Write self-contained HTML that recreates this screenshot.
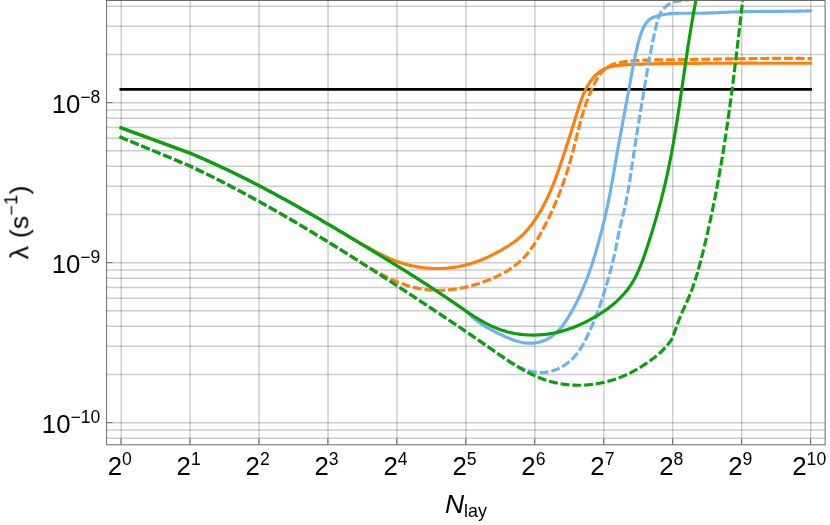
<!DOCTYPE html>
<html><head><meta charset="utf-8"><title>plot</title>
<style>
html,body{margin:0;padding:0;background:#fff;}
svg{display:block;}
text{font-family:"Liberation Sans",sans-serif;fill:#000;}
</style></head><body>
<svg width="830" height="525" viewBox="0 0 830 525">
<rect width="830" height="525" fill="#fff"/>
<defs><clipPath id="c"><rect x="106.60" y="0.50" width="718.50" height="444.30"/></clipPath></defs>
<g stroke="#000" stroke-opacity="0.195" stroke-width="1.5" fill="none">
<line x1="121.20" y1="0.50" x2="121.20" y2="444.80"/>
<line x1="190.15" y1="0.50" x2="190.15" y2="444.80"/>
<line x1="259.10" y1="0.50" x2="259.10" y2="444.80"/>
<line x1="328.05" y1="0.50" x2="328.05" y2="444.80"/>
<line x1="397.00" y1="0.50" x2="397.00" y2="444.80"/>
<line x1="465.95" y1="0.50" x2="465.95" y2="444.80"/>
<line x1="534.90" y1="0.50" x2="534.90" y2="444.80"/>
<line x1="603.85" y1="0.50" x2="603.85" y2="444.80"/>
<line x1="672.80" y1="0.50" x2="672.80" y2="444.80"/>
<line x1="741.75" y1="0.50" x2="741.75" y2="444.80"/>
<line x1="810.70" y1="0.50" x2="810.70" y2="444.80"/>
<line x1="106.60" y1="438.21" x2="825.10" y2="438.21"/>
<line x1="106.60" y1="430.02" x2="825.10" y2="430.02"/>
<line x1="106.60" y1="422.70" x2="825.10" y2="422.70"/>
<line x1="106.60" y1="374.54" x2="825.10" y2="374.54"/>
<line x1="106.60" y1="346.36" x2="825.10" y2="346.36"/>
<line x1="106.60" y1="326.37" x2="825.10" y2="326.37"/>
<line x1="106.60" y1="310.86" x2="825.10" y2="310.86"/>
<line x1="106.60" y1="298.20" x2="825.10" y2="298.20"/>
<line x1="106.60" y1="287.48" x2="825.10" y2="287.48"/>
<line x1="106.60" y1="278.21" x2="825.10" y2="278.21"/>
<line x1="106.60" y1="270.02" x2="825.10" y2="270.02"/>
<line x1="106.60" y1="262.70" x2="825.10" y2="262.70"/>
<line x1="106.60" y1="214.54" x2="825.10" y2="214.54"/>
<line x1="106.60" y1="186.36" x2="825.10" y2="186.36"/>
<line x1="106.60" y1="166.37" x2="825.10" y2="166.37"/>
<line x1="106.60" y1="150.86" x2="825.10" y2="150.86"/>
<line x1="106.60" y1="138.20" x2="825.10" y2="138.20"/>
<line x1="106.60" y1="127.48" x2="825.10" y2="127.48"/>
<line x1="106.60" y1="118.21" x2="825.10" y2="118.21"/>
<line x1="106.60" y1="110.02" x2="825.10" y2="110.02"/>
<line x1="106.60" y1="102.70" x2="825.10" y2="102.70"/>
<line x1="106.60" y1="54.54" x2="825.10" y2="54.54"/>
<line x1="106.60" y1="26.36" x2="825.10" y2="26.36"/>
<line x1="106.60" y1="6.37" x2="825.10" y2="6.37"/>
</g>
<g clip-path="url(#c)" fill="none" stroke-width="3.15" stroke-linejoin="round" stroke-linecap="square">
<path d="M121 89.38H810.5" stroke="#000" stroke-width="2.95"/>
<path d="M121.00 127.80 L189.66 153.02 L191.53 153.80 L193.40 154.59 L195.27 155.38 L197.13 156.18 L199.00 156.98 L200.86 157.79 L202.72 158.60 L204.57 159.41 L206.43 160.23 L208.28 161.06 L210.13 161.89 L211.98 162.72 L213.83 163.56 L215.67 164.40 L217.51 165.25 L219.35 166.10 L221.19 166.96 L223.03 167.82 L224.86 168.68 L226.69 169.55 L228.52 170.42 L230.35 171.30 L232.18 172.18 L234.00 173.06 L235.82 173.95 L237.64 174.84 L239.46 175.74 L241.28 176.64 L243.09 177.54 L244.90 178.45 L246.71 179.36 L248.52 180.27 L250.33 181.19 L252.14 182.11 L253.94 183.03 L255.74 183.96 L257.54 184.89 L259.34 185.83 L261.14 186.77 L262.94 187.71 L264.73 188.65 L266.52 189.60 L268.31 190.55 L270.10 191.50 L271.89 192.46 L273.68 193.42 L275.46 194.38 L277.25 195.34 L279.03 196.31 L280.81 197.28 L282.59 198.26 L284.36 199.23 L286.14 200.21 L287.92 201.19 L289.69 202.17 L291.46 203.16 L293.23 204.15 L295.00 205.14 L296.77 206.13 L298.54 207.13 L300.30 208.13 L302.07 209.13 L303.83 210.13 L305.59 211.13 L307.36 212.14 L309.12 213.15 L310.87 214.16 L312.63 215.17 L314.39 216.18 L316.14 217.20 L317.90 218.21 L319.65 219.23 L321.41 220.25 L323.16 221.28 L324.91 222.30 L326.66 223.33 L328.41 224.35 L330.15 225.38 L331.90 226.41 L333.65 227.45 L335.39 228.48 L337.14 229.51 L338.88 230.55 L340.62 231.58 L342.36 232.62 L344.11 233.66 L345.85 234.70 L347.59 235.74 L349.32 236.78 L351.06 237.83 L352.30 238.61 L353.61 239.35 L354.91 240.10 L356.22 240.83 L357.54 241.57 L358.85 242.31 L360.17 243.05 L361.49 243.78 L362.81 244.52 L364.13 245.26 L365.45 246.00 L366.78 246.74 L368.11 247.48 L369.45 248.22 L370.79 248.96 L372.13 249.69 L373.47 250.42 L374.82 251.15 L376.17 251.87 L377.53 252.58 L378.89 253.29 L380.25 253.99 L381.62 254.68 L382.99 255.36 L384.37 256.03 L385.75 256.68 L387.14 257.33 L388.53 257.96 L389.93 258.58 L391.33 259.18 L392.74 259.77 L394.15 260.34 L395.57 260.89 L396.99 261.42 L398.42 261.94 L399.86 262.44 L401.30 262.91 L402.75 263.37 L404.20 263.81 L405.66 264.22 L407.12 264.62 L408.58 265.00 L410.06 265.36 L411.53 265.70 L413.01 266.03 L414.49 266.33 L415.97 266.61 L417.46 266.88 L418.95 267.12 L420.45 267.35 L421.94 267.55 L423.44 267.74 L424.94 267.91 L426.45 268.05 L427.95 268.18 L429.46 268.29 L430.96 268.38 L432.47 268.45 L433.98 268.50 L435.49 268.53 L437.00 268.55 L438.51 268.54 L440.02 268.51 L441.53 268.47 L443.04 268.40 L444.54 268.32 L446.05 268.21 L447.56 268.09 L449.06 267.94 L450.56 267.78 L452.07 267.60 L453.56 267.40 L455.06 267.18 L456.56 266.94 L458.05 266.68 L459.54 266.40 L461.02 266.10 L462.51 265.78 L463.98 265.44 L465.46 265.09 L466.93 264.71 L468.40 264.32 L469.86 263.90 L471.32 263.46 L472.77 263.01 L474.22 262.54 L475.67 262.04 L477.10 261.53 L478.54 261.01 L479.96 260.46 L481.39 259.90 L482.80 259.32 L484.21 258.73 L485.62 258.12 L487.01 257.49 L488.41 256.85 L489.79 256.20 L491.17 255.53 L492.54 254.85 L493.90 254.16 L495.26 253.45 L496.61 252.73 L497.95 252.00 L499.29 251.26 L500.62 250.51 L501.94 249.74 L503.25 248.97 L504.55 248.19 L505.85 247.39 L507.13 246.59 L508.41 245.78 L509.68 244.96 L510.94 244.13 L512.18 243.29 L513.41 242.43 L514.63 241.55 L515.84 240.65 L517.02 239.73 L518.19 238.80 L519.35 237.83 L520.48 236.85 L521.59 235.83 L522.68 234.79 L523.76 233.73 L524.81 232.64 L525.84 231.53 L526.86 230.39 L527.85 229.24 L528.83 228.07 L529.79 226.88 L530.73 225.68 L531.66 224.47 L532.56 223.24 L533.46 222.01 L534.34 220.76 L535.20 219.51 L536.05 218.24 L536.88 216.97 L537.70 215.69 L538.50 214.41 L539.29 213.11 L540.07 211.81 L540.83 210.50 L541.59 209.18 L542.32 207.86 L543.05 206.52 L543.76 205.19 L544.47 203.84 L545.16 202.49 L545.84 201.14 L546.51 199.77 L547.16 198.41 L547.81 197.03 L548.45 195.66 L549.08 194.27 L549.70 192.89 L550.30 191.49 L550.91 190.10 L551.50 188.70 L552.08 187.29 L552.66 185.88 L553.22 184.47 L553.78 183.06 L554.34 181.64 L554.88 180.22 L555.42 178.79 L555.96 177.37 L556.49 175.94 L557.01 174.51 L557.52 173.08 L558.04 171.64 L558.54 170.21 L559.05 168.77 L559.54 167.33 L560.04 165.89 L560.53 164.45 L561.01 163.01 L561.50 161.57 L561.98 160.13 L562.46 158.69 L562.94 157.25 L563.41 155.82 L563.88 154.38 L564.35 152.94 L564.82 151.50 L565.29 150.07 L565.76 148.63 L566.23 147.20 L566.69 145.77 L567.16 144.33 L567.62 142.90 L568.09 141.46 L568.55 140.03 L569.01 138.60 L569.47 137.16 L569.93 135.72 L570.38 134.29 L570.84 132.85 L571.30 131.41 L571.75 129.96 L572.20 128.52 L572.66 127.07 L573.11 125.63 L573.56 124.18 L574.01 122.72 L574.46 121.27 L574.91 119.81 L575.36 118.35 L575.80 116.88 L576.25 115.42 L576.70 113.95 L577.15 112.47 L577.60 111.00 L578.05 109.53 L578.51 108.06 L578.98 106.59 L579.46 105.12 L579.95 103.66 L580.44 102.20 L580.96 100.75 L581.48 99.31 L582.02 97.88 L582.58 96.45 L583.16 95.04 L583.76 93.64 L584.37 92.25 L585.02 90.87 L585.68 89.51 L586.37 88.17 L587.09 86.84 L587.84 85.53 L588.62 84.24 L589.43 82.97 L590.27 81.72 L591.14 80.49 L592.05 79.29 L593.00 78.12 L593.98 76.99 L594.99 75.89 L596.04 74.84 L597.12 73.83 L598.24 72.87 L599.40 71.96 L600.59 71.11 L601.82 70.32 L603.09 69.59 L604.39 68.92 L605.74 68.33 L607.11 67.81 L608.53 67.35 L609.97 66.94 L611.43 66.59 L612.92 66.29 L614.42 66.03 L615.95 65.80 L617.48 65.61 L619.02 65.44 L620.57 65.29 L622.12 65.15 L623.66 65.03 L625.21 64.91 L626.75 64.81 L628.29 64.71 L629.82 64.61 L631.36 64.52 L632.89 64.44 L634.42 64.37 L635.94 64.30 L637.47 64.23 L638.99 64.17 L640.51 64.12 L642.03 64.07 L643.55 64.02 L645.07 63.98 L646.58 63.94 L648.10 63.90 L649.62 63.87 L651.13 63.84 L652.64 63.81 L654.16 63.79 L655.67 63.76 L657.18 63.74 L658.70 63.72 L660.21 63.69 L661.72 63.67 L663.24 63.65 L664.75 63.63 L666.27 63.61 L667.78 63.59 L669.30 63.57 L670.81 63.56 L672.33 63.54 L673.84 63.52 L675.36 63.51 L676.87 63.49 L678.39 63.47 L679.91 63.46 L681.42 63.44 L682.94 63.43 L684.46 63.42 L685.97 63.40 L687.49 63.39 L689.01 63.38 L690.52 63.37 L692.04 63.36 L693.56 63.35 L695.08 63.34 L696.59 63.33 L698.11 63.32 L699.63 63.31 L701.15 63.30 L702.67 63.29 L704.19 63.28 L705.70 63.27 L707.22 63.27 L708.74 63.26 L710.26 63.25 L711.78 63.25 L713.30 63.24 L714.82 63.24 L716.34 63.23 L717.86 63.23 L719.38 63.22 L720.89 63.22 L722.41 63.21 L723.93 63.21 L725.45 63.21 L726.97 63.20 L728.49 63.20 L730.01 63.20 L731.53 63.20 L733.05 63.20 L734.57 63.19 L736.09 63.19 L737.61 63.19 L739.13 63.19 L740.65 63.19 L742.17 63.19 L743.69 63.19 L745.21 63.19 L746.73 63.19 L748.25 63.19 L749.77 63.19 L751.29 63.19 L752.81 63.19 L754.33 63.19 L755.85 63.19 L757.36 63.19 L758.88 63.20 L760.40 63.20 L761.92 63.20 L763.44 63.20 L764.96 63.20 L766.48 63.21 L768.00 63.21 L769.52 63.21 L771.04 63.21 L772.55 63.21 L774.07 63.22 L775.59 63.22 L777.11 63.22 L778.63 63.23 L780.15 63.23 L781.66 63.23 L783.18 63.23 L784.70 63.24 L786.22 63.24 L787.73 63.24 L789.25 63.25 L790.77 63.25 L792.28 63.25 L793.80 63.25 L795.32 63.26 L796.83 63.26 L798.35 63.26 L799.87 63.27 L801.38 63.27 L802.90 63.27 L804.41 63.27 L805.93 63.28 L807.44 63.28 L808.96 63.28 L810.47 63.28" stroke="#ff7f0a"/>
<path d="M121.00 137.40 L189.70 165.86 L190.97 166.46 L192.25 167.06 L193.52 167.67 L194.79 168.27 L196.06 168.88 L197.33 169.49 L198.59 170.10 L199.86 170.71 L201.12 171.33 L202.39 171.94 L203.65 172.56 L204.91 173.18 L206.17 173.80 L207.43 174.42 L208.69 175.04 L209.95 175.67 L211.21 176.29 L212.46 176.92 L213.72 177.55 L214.97 178.18 L216.23 178.81 L217.48 179.44 L218.73 180.08 L219.98 180.71 L221.23 181.35 L222.48 181.99 L223.73 182.63 L224.97 183.27 L226.22 183.91 L227.47 184.56 L228.71 185.20 L229.95 185.85 L231.20 186.50 L232.44 187.15 L233.68 187.80 L234.92 188.45 L236.16 189.10 L237.40 189.76 L238.63 190.41 L239.87 191.07 L241.11 191.73 L242.34 192.39 L243.58 193.05 L244.81 193.72 L246.04 194.38 L247.28 195.04 L248.51 195.71 L249.74 196.38 L250.97 197.05 L252.20 197.72 L253.42 198.39 L254.65 199.06 L255.88 199.74 L257.11 200.41 L258.33 201.09 L259.56 201.77 L260.78 202.45 L262.00 203.13 L263.23 203.81 L264.45 204.49 L265.67 205.17 L266.89 205.86 L268.11 206.54 L269.33 207.23 L270.55 207.92 L271.77 208.61 L272.98 209.30 L274.20 209.99 L275.42 210.68 L276.63 211.38 L277.85 212.07 L279.06 212.77 L280.28 213.46 L281.49 214.16 L282.70 214.86 L283.91 215.56 L285.12 216.26 L286.34 216.96 L287.55 217.67 L288.76 218.37 L289.97 219.08 L291.17 219.78 L292.38 220.49 L293.59 221.20 L294.80 221.91 L296.00 222.62 L297.21 223.33 L298.42 224.04 L299.62 224.75 L300.83 225.47 L302.03 226.18 L303.24 226.90 L304.44 227.62 L305.64 228.33 L306.84 229.05 L308.05 229.77 L309.25 230.49 L310.45 231.22 L311.65 231.94 L312.85 232.66 L314.05 233.39 L315.25 234.11 L316.45 234.84 L317.65 235.56 L318.85 236.29 L320.05 237.02 L321.24 237.75 L322.44 238.48 L323.64 239.21 L324.84 239.94 L326.03 240.67 L327.23 241.41 L328.42 242.14 L329.62 242.88 L330.81 243.61 L332.01 244.35 L333.20 245.09 L334.39 245.82 L335.59 246.56 L336.78 247.30 L337.97 248.04 L339.17 248.78 L340.36 249.53 L341.55 250.27 L342.74 251.01 L343.93 251.75 L345.12 252.50 L346.31 253.24 L347.50 253.99 L348.69 254.74 L349.88 255.48 L351.06 256.23 L352.25 256.98 L353.44 257.73 L354.63 258.48 L355.81 259.23 L357.00 259.98 L358.19 260.73 L359.37 261.48 L360.56 262.23 L361.74 262.99 L362.93 263.74 L364.11 264.49 L365.29 265.25 L366.48 266.00 L367.66 266.76 L368.44 267.07 L369.75 267.83 L371.06 268.58 L372.38 269.33 L373.70 270.08 L375.02 270.82 L376.36 271.55 L377.69 272.28 L379.04 273.01 L380.39 273.73 L381.75 274.44 L383.11 275.15 L384.48 275.85 L385.86 276.54 L387.24 277.23 L388.63 277.90 L390.02 278.56 L391.42 279.22 L392.83 279.86 L394.24 280.48 L395.66 281.10 L397.08 281.70 L398.51 282.29 L399.95 282.86 L401.38 283.41 L402.83 283.95 L404.28 284.46 L405.73 284.96 L407.19 285.44 L408.65 285.90 L410.12 286.34 L411.59 286.76 L413.06 287.16 L414.54 287.53 L416.02 287.87 L417.51 288.20 L419.00 288.50 L420.49 288.77 L421.99 289.03 L423.49 289.25 L424.99 289.46 L426.49 289.64 L428.00 289.80 L429.51 289.94 L431.02 290.06 L432.54 290.15 L434.05 290.22 L435.57 290.28 L437.08 290.30 L438.60 290.31 L440.12 290.30 L441.64 290.27 L443.16 290.21 L444.68 290.14 L446.20 290.05 L447.72 289.93 L449.24 289.80 L450.76 289.65 L452.27 289.48 L453.79 289.29 L455.31 289.08 L456.82 288.85 L458.33 288.61 L459.85 288.35 L461.35 288.07 L462.86 287.77 L464.37 287.45 L465.87 287.12 L467.37 286.77 L468.86 286.41 L470.36 286.02 L471.85 285.63 L473.33 285.21 L474.81 284.78 L476.29 284.34 L477.77 283.88 L479.24 283.40 L480.70 282.91 L482.16 282.40 L483.62 281.89 L485.07 281.35 L486.52 280.80 L487.96 280.24 L489.39 279.67 L490.82 279.08 L492.24 278.48 L493.65 277.86 L495.06 277.23 L496.46 276.58 L497.84 275.92 L499.22 275.25 L500.59 274.55 L501.95 273.84 L503.29 273.11 L504.63 272.37 L505.95 271.61 L507.25 270.82 L508.54 270.02 L509.82 269.21 L511.08 268.37 L512.33 267.51 L513.56 266.63 L514.77 265.73 L515.96 264.81 L517.13 263.86 L518.29 262.90 L519.42 261.91 L520.54 260.90 L521.63 259.86 L522.70 258.80 L523.75 257.72 L524.78 256.62 L525.79 255.49 L526.77 254.35 L527.74 253.18 L528.69 251.99 L529.62 250.79 L530.54 249.57 L531.44 248.34 L532.32 247.08 L533.19 245.82 L534.04 244.54 L534.87 243.25 L535.70 241.95 L536.51 240.63 L537.31 239.31 L538.10 237.98 L538.87 236.64 L539.64 235.29 L540.40 233.94 L541.15 232.58 L541.89 231.22 L542.62 229.86 L543.34 228.49 L544.06 227.12 L544.77 225.75 L545.48 224.37 L546.18 223.00 L546.87 221.62 L547.55 220.24 L548.23 218.86 L548.90 217.48 L549.57 216.09 L550.23 214.70 L550.88 213.31 L551.52 211.92 L552.16 210.52 L552.79 209.13 L553.42 207.73 L554.04 206.33 L554.65 204.92 L555.25 203.52 L555.85 202.11 L556.44 200.70 L557.03 199.29 L557.61 197.88 L558.18 196.46 L558.75 195.04 L559.31 193.62 L559.86 192.20 L560.41 190.78 L560.95 189.35 L561.48 187.92 L562.01 186.49 L562.53 185.06 L563.05 183.63 L563.56 182.19 L564.06 180.75 L564.56 179.31 L565.05 177.87 L565.53 176.42 L566.01 174.97 L566.49 173.52 L566.95 172.07 L567.41 170.62 L567.86 169.16 L568.31 167.70 L568.75 166.24 L569.19 164.78 L569.62 163.32 L570.04 161.85 L570.46 160.38 L570.87 158.91 L571.28 157.44 L571.68 155.96 L572.07 154.49 L572.47 153.01 L572.85 151.53 L573.24 150.05 L573.62 148.57 L574.00 147.08 L574.37 145.60 L574.75 144.12 L575.12 142.63 L575.49 141.14 L575.86 139.66 L576.23 138.17 L576.60 136.69 L576.98 135.20 L577.35 133.71 L577.73 132.23 L578.11 130.74 L578.49 129.26 L578.87 127.78 L579.26 126.29 L579.65 124.81 L580.05 123.33 L580.45 121.85 L580.86 120.38 L581.27 118.90 L581.69 117.43 L582.11 115.95 L582.54 114.48 L582.99 113.02 L583.43 111.55 L583.89 110.09 L584.36 108.63 L584.83 107.17 L585.32 105.72 L585.81 104.27 L586.32 102.82 L586.83 101.38 L587.36 99.94 L587.90 98.50 L588.46 97.07 L589.02 95.64 L589.60 94.21 L590.20 92.79 L590.81 91.38 L591.43 89.97 L592.07 88.56 L592.72 87.16 L593.39 85.76 L594.08 84.37 L594.78 82.98 L595.50 81.61 L596.25 80.25 L597.02 78.91 L597.82 77.59 L598.65 76.31 L599.51 75.06 L600.41 73.84 L601.35 72.67 L602.33 71.55 L603.35 70.48 L604.42 69.47 L605.54 68.52 L606.72 67.63 L607.94 66.82 L609.21 66.07 L610.53 65.39 L611.89 64.78 L613.29 64.23 L614.72 63.75 L616.18 63.32 L617.66 62.95 L619.16 62.62 L620.68 62.33 L622.20 62.07 L623.73 61.83 L625.26 61.62 L626.79 61.42 L628.31 61.24 L629.84 61.07 L631.37 60.92 L632.90 60.78 L634.43 60.66 L635.97 60.55 L637.50 60.46 L639.03 60.37 L640.56 60.30 L642.09 60.23 L643.62 60.17 L645.16 60.12 L646.69 60.08 L648.22 60.05 L649.75 60.02 L651.29 59.99 L652.82 59.97 L654.35 59.95 L655.88 59.93 L657.42 59.92 L658.95 59.90 L660.48 59.89 L662.01 59.87 L663.55 59.86 L665.08 59.84 L666.61 59.82 L668.14 59.80 L669.67 59.78 L671.21 59.76 L672.74 59.74 L674.27 59.72 L675.80 59.70 L677.33 59.68 L678.86 59.66 L680.39 59.64 L681.92 59.62 L683.46 59.60 L684.99 59.57 L686.52 59.55 L688.05 59.53 L689.58 59.50 L691.11 59.48 L692.64 59.46 L694.17 59.43 L695.70 59.41 L697.23 59.38 L698.76 59.36 L700.29 59.33 L701.82 59.31 L703.35 59.28 L704.89 59.26 L706.42 59.23 L707.95 59.21 L709.48 59.18 L711.01 59.16 L712.54 59.13 L714.07 59.11 L715.60 59.08 L717.13 59.06 L718.66 59.03 L720.19 59.01 L721.72 58.99 L723.25 58.96 L724.78 58.94 L726.31 58.91 L727.84 58.89 L729.37 58.87 L730.90 58.85 L732.43 58.82 L733.96 58.80 L735.49 58.78 L737.02 58.76 L738.55 58.74 L740.08 58.72 L741.61 58.70 L743.14 58.68 L744.67 58.66 L746.20 58.64 L747.73 58.62 L749.26 58.60 L750.79 58.58 L752.32 58.57 L753.85 58.55 L755.38 58.54 L756.91 58.52 L758.44 58.51 L759.97 58.49 L761.50 58.48 L763.03 58.47 L764.56 58.46 L766.09 58.45 L767.62 58.44 L769.16 58.43 L770.69 58.42 L772.22 58.41 L773.75 58.41 L775.28 58.40 L776.81 58.39 L778.34 58.39 L779.87 58.39 L781.40 58.39 L782.94 58.38 L784.47 58.38 L786.00 58.38 L787.53 58.39 L789.06 58.39 L790.59 58.39 L792.13 58.40 L793.66 58.40 L795.19 58.41 L796.72 58.42 L798.26 58.43 L799.79 58.44 L801.32 58.45 L802.85 58.46 L804.39 58.48 L805.92 58.49 L807.45 58.51 L808.98 58.53 L810.52 58.55" stroke="#ff7f0a" stroke-dasharray="5.75 6.05"/>
<path d="M121.00 127.80 L189.66 153.02 L191.53 153.80 L193.40 154.59 L195.27 155.38 L197.13 156.18 L199.00 156.98 L200.86 157.79 L202.72 158.60 L204.57 159.41 L206.43 160.23 L208.28 161.06 L210.13 161.89 L211.98 162.72 L213.83 163.56 L215.67 164.40 L217.51 165.25 L219.35 166.10 L221.19 166.96 L223.03 167.82 L224.86 168.68 L226.69 169.55 L228.52 170.42 L230.35 171.30 L232.18 172.18 L234.00 173.06 L235.82 173.95 L237.64 174.84 L239.46 175.74 L241.28 176.64 L243.09 177.54 L244.90 178.45 L246.71 179.36 L248.52 180.27 L250.33 181.19 L252.14 182.11 L253.94 183.03 L255.74 183.96 L257.54 184.89 L259.34 185.83 L261.14 186.77 L262.94 187.71 L264.73 188.65 L266.52 189.60 L268.31 190.55 L270.10 191.50 L271.89 192.46 L273.68 193.42 L275.46 194.38 L277.25 195.34 L279.03 196.31 L280.81 197.28 L282.59 198.26 L284.36 199.23 L286.14 200.21 L287.92 201.19 L289.69 202.17 L291.46 203.16 L293.23 204.15 L295.00 205.14 L296.77 206.13 L298.54 207.13 L300.30 208.13 L302.07 209.13 L303.83 210.13 L305.59 211.13 L307.36 212.14 L309.12 213.15 L310.87 214.16 L312.63 215.17 L314.39 216.18 L316.14 217.20 L317.90 218.21 L319.65 219.23 L321.41 220.25 L323.16 221.28 L324.91 222.30 L326.66 223.33 L328.41 224.35 L330.15 225.38 L331.90 226.41 L333.65 227.45 L335.39 228.48 L337.14 229.51 L338.88 230.55 L340.62 231.58 L342.36 232.62 L344.11 233.66 L345.85 234.70 L347.59 235.74 L349.32 236.78 L351.06 237.83 L352.80 238.87 L354.54 239.91 L356.27 240.96 L358.01 242.00 L359.74 243.05 L361.48 244.10 L363.21 245.15 L364.95 246.19 L366.68 247.24 L368.41 248.29 L370.14 249.34 L371.88 250.39 L373.61 251.44 L375.34 252.49 L377.07 253.55 L378.80 254.60 L380.52 255.65 L382.25 256.71 L383.98 257.76 L385.70 258.82 L387.43 259.88 L389.16 260.94 L390.88 262.00 L392.60 263.06 L394.33 264.12 L396.05 265.19 L397.77 266.25 L399.49 267.32 L401.21 268.39 L402.93 269.46 L404.64 270.53 L406.36 271.61 L408.07 272.68 L409.79 273.76 L411.50 274.84 L413.21 275.93 L414.92 277.01 L416.63 278.10 L418.34 279.19 L420.05 280.28 L421.76 281.38 L423.46 282.48 L425.17 283.58 L426.87 284.68 L428.57 285.78 L430.27 286.89 L431.97 288.00 L433.67 289.12 L435.36 290.24 L437.06 291.36 L438.75 292.48 L440.44 293.61 L442.13 294.74 L443.82 295.87 L445.51 297.01 L447.19 298.15 L448.88 299.30 L450.56 300.44 L452.24 301.60 L453.92 302.75 L455.60 303.91 L457.27 305.07 L458.95 306.24 L460.63 307.40 L462.30 308.56 L463.98 309.72 L465.67 310.87 L466.29 311.36 L467.46 312.41 L468.61 313.49 L469.75 314.57 L470.89 315.66 L472.04 316.73 L473.21 317.77 L474.40 318.79 L475.61 319.78 L476.83 320.74 L478.07 321.69 L479.32 322.60 L480.60 323.50 L481.88 324.37 L483.18 325.23 L484.50 326.06 L485.82 326.87 L487.16 327.67 L488.51 328.45 L489.87 329.21 L491.25 329.95 L492.63 330.68 L494.02 331.40 L495.42 332.10 L496.83 332.79 L498.24 333.46 L499.66 334.13 L501.09 334.79 L502.52 335.43 L503.96 336.07 L505.40 336.70 L506.84 337.33 L508.29 337.94 L509.74 338.54 L511.20 339.12 L512.67 339.68 L514.14 340.21 L515.62 340.71 L517.12 341.18 L518.62 341.60 L520.14 341.99 L521.67 342.32 L523.21 342.61 L524.77 342.84 L526.34 343.01 L527.93 343.11 L529.53 343.16 L531.13 343.14 L532.74 343.06 L534.34 342.92 L535.93 342.72 L537.51 342.45 L539.06 342.13 L540.60 341.74 L542.10 341.29 L543.57 340.77 L545.01 340.20 L546.40 339.57 L547.76 338.87 L549.08 338.13 L550.37 337.33 L551.62 336.48 L552.84 335.58 L554.03 334.63 L555.19 333.64 L556.32 332.61 L557.42 331.54 L558.49 330.44 L559.53 329.29 L560.55 328.12 L561.55 326.92 L562.52 325.69 L563.47 324.43 L564.39 323.15 L565.30 321.85 L566.19 320.53 L567.06 319.20 L567.92 317.85 L568.75 316.49 L569.58 315.12 L570.39 313.74 L571.19 312.36 L571.97 310.98 L572.74 309.59 L573.51 308.20 L574.26 306.80 L574.99 305.40 L575.72 304.00 L576.44 302.59 L577.14 301.18 L577.84 299.77 L578.52 298.35 L579.20 296.93 L579.86 295.50 L580.52 294.08 L581.16 292.65 L581.79 291.21 L582.42 289.78 L583.04 288.34 L583.64 286.89 L584.24 285.45 L584.83 284.00 L585.41 282.55 L585.98 281.09 L586.55 279.64 L587.10 278.18 L587.65 276.71 L588.19 275.25 L588.73 273.78 L589.25 272.31 L589.77 270.84 L590.29 269.36 L590.79 267.88 L591.29 266.40 L591.78 264.92 L592.27 263.44 L592.75 261.95 L593.23 260.46 L593.70 258.97 L594.16 257.48 L594.62 255.98 L595.07 254.48 L595.52 252.99 L595.97 251.48 L596.40 249.98 L596.84 248.48 L597.27 246.97 L597.70 245.47 L598.12 243.96 L598.54 242.45 L598.96 240.93 L599.37 239.42 L599.78 237.91 L600.18 236.39 L600.59 234.87 L600.99 233.35 L601.38 231.83 L601.77 230.31 L602.16 228.79 L602.55 227.26 L602.93 225.74 L603.31 224.21 L603.68 222.69 L604.05 221.16 L604.41 219.63 L604.78 218.10 L605.13 216.57 L605.49 215.04 L605.84 213.51 L606.18 211.97 L606.52 210.44 L606.86 208.90 L607.19 207.37 L607.52 205.83 L607.84 204.30 L608.16 202.76 L608.47 201.22 L608.78 199.68 L609.09 198.14 L609.39 196.61 L609.68 195.07 L609.98 193.53 L610.27 191.99 L610.55 190.44 L610.84 188.90 L611.12 187.36 L611.40 185.82 L611.67 184.28 L611.95 182.73 L612.22 181.19 L612.49 179.65 L612.76 178.11 L613.03 176.56 L613.29 175.02 L613.56 173.47 L613.83 171.93 L614.09 170.39 L614.36 168.84 L614.63 167.30 L614.90 165.75 L615.16 164.21 L615.43 162.66 L615.70 161.12 L615.97 159.58 L616.25 158.03 L616.52 156.49 L616.79 154.94 L617.07 153.40 L617.35 151.85 L617.62 150.31 L617.90 148.76 L618.18 147.22 L618.46 145.68 L618.74 144.13 L619.02 142.59 L619.30 141.04 L619.58 139.50 L619.87 137.96 L620.15 136.41 L620.43 134.87 L620.72 133.32 L621.00 131.78 L621.29 130.24 L621.57 128.69 L621.86 127.15 L622.14 125.61 L622.43 124.06 L622.72 122.52 L623.00 120.97 L623.29 119.43 L623.58 117.89 L623.87 116.35 L624.15 114.80 L624.44 113.26 L624.73 111.72 L625.01 110.17 L625.30 108.63 L625.59 107.09 L625.87 105.55 L626.16 104.00 L626.45 102.46 L626.73 100.92 L627.02 99.38 L627.30 97.84 L627.59 96.30 L627.87 94.75 L628.16 93.21 L628.44 91.67 L628.73 90.13 L629.01 88.59 L629.29 87.05 L629.57 85.51 L629.85 83.97 L630.13 82.43 L630.41 80.89 L630.70 79.35 L630.98 77.81 L631.26 76.27 L631.54 74.73 L631.83 73.19 L632.12 71.65 L632.41 70.11 L632.70 68.58 L632.99 67.04 L633.29 65.50 L633.59 63.96 L633.90 62.42 L634.20 60.89 L634.52 59.35 L634.83 57.81 L635.16 56.28 L635.48 54.74 L635.81 53.21 L636.15 51.67 L636.50 50.13 L636.85 48.60 L637.20 47.06 L637.57 45.53 L637.94 44.00 L638.33 42.47 L638.73 40.94 L639.16 39.42 L639.60 37.91 L640.07 36.40 L640.57 34.90 L641.10 33.40 L641.66 31.92 L642.26 30.45 L642.90 28.99 L643.58 27.54 L644.30 26.11 L645.08 24.71 L645.93 23.37 L646.85 22.11 L647.85 20.94 L648.94 19.91 L650.14 19.01 L651.42 18.24 L652.77 17.58 L654.18 17.01 L655.63 16.51 L657.10 16.06 L658.58 15.66 L660.07 15.30 L661.57 14.97 L663.09 14.68 L664.61 14.43 L666.14 14.20 L667.67 14.01 L669.22 13.84 L670.77 13.69 L672.33 13.57 L673.89 13.48 L675.46 13.40 L677.03 13.34 L678.61 13.29 L680.19 13.26 L681.77 13.24 L683.36 13.23 L684.94 13.23 L686.53 13.23 L688.12 13.24 L689.71 13.25 L691.30 13.26 L692.89 13.26 L694.47 13.26 L696.06 13.26 L697.64 13.25 L699.22 13.23 L700.79 13.21 L702.37 13.18 L703.94 13.15 L705.51 13.10 L707.08 13.06 L708.64 13.01 L710.21 12.96 L711.77 12.90 L713.34 12.84 L714.90 12.78 L716.46 12.71 L718.02 12.65 L719.58 12.58 L721.14 12.51 L722.70 12.44 L724.26 12.37 L725.82 12.31 L727.38 12.24 L728.94 12.17 L730.50 12.11 L732.06 12.05 L733.62 11.99 L735.18 11.94 L736.75 11.89 L738.31 11.84 L739.88 11.79 L741.44 11.75 L743.01 11.71 L744.57 11.68 L746.14 11.65 L747.71 11.62 L749.28 11.59 L750.85 11.56 L752.42 11.54 L753.99 11.52 L755.56 11.50 L757.13 11.48 L758.71 11.46 L760.28 11.45 L761.85 11.43 L763.42 11.42 L765.00 11.41 L766.57 11.40 L768.14 11.39 L769.71 11.38 L771.29 11.37 L772.86 11.36 L774.43 11.35 L776.00 11.34 L777.58 11.34 L779.15 11.33 L780.72 11.32 L782.29 11.31 L783.86 11.29 L785.43 11.28 L787.00 11.27 L788.57 11.25 L790.14 11.24 L791.71 11.22 L793.27 11.20 L794.84 11.18 L796.41 11.16 L797.97 11.13 L799.53 11.11 L801.10 11.08 L802.66 11.05 L804.22 11.01 L805.78 10.97 L807.34 10.93 L808.90 10.89 L810.45 10.84" stroke="#6cb3eb"/>
<path d="M121.00 137.40 L189.70 165.86 L190.97 166.46 L192.25 167.06 L193.52 167.67 L194.79 168.27 L196.06 168.88 L197.33 169.49 L198.59 170.10 L199.86 170.71 L201.12 171.33 L202.39 171.94 L203.65 172.56 L204.91 173.18 L206.17 173.80 L207.43 174.42 L208.69 175.04 L209.95 175.67 L211.21 176.29 L212.46 176.92 L213.72 177.55 L214.97 178.18 L216.23 178.81 L217.48 179.44 L218.73 180.08 L219.98 180.71 L221.23 181.35 L222.48 181.99 L223.73 182.63 L224.97 183.27 L226.22 183.91 L227.47 184.56 L228.71 185.20 L229.95 185.85 L231.20 186.50 L232.44 187.15 L233.68 187.80 L234.92 188.45 L236.16 189.10 L237.40 189.76 L238.63 190.41 L239.87 191.07 L241.11 191.73 L242.34 192.39 L243.58 193.05 L244.81 193.72 L246.04 194.38 L247.28 195.04 L248.51 195.71 L249.74 196.38 L250.97 197.05 L252.20 197.72 L253.42 198.39 L254.65 199.06 L255.88 199.74 L257.11 200.41 L258.33 201.09 L259.56 201.77 L260.78 202.45 L262.00 203.13 L263.23 203.81 L264.45 204.49 L265.67 205.17 L266.89 205.86 L268.11 206.54 L269.33 207.23 L270.55 207.92 L271.77 208.61 L272.98 209.30 L274.20 209.99 L275.42 210.68 L276.63 211.38 L277.85 212.07 L279.06 212.77 L280.28 213.46 L281.49 214.16 L282.70 214.86 L283.91 215.56 L285.12 216.26 L286.34 216.96 L287.55 217.67 L288.76 218.37 L289.97 219.08 L291.17 219.78 L292.38 220.49 L293.59 221.20 L294.80 221.91 L296.00 222.62 L297.21 223.33 L298.42 224.04 L299.62 224.75 L300.83 225.47 L302.03 226.18 L303.24 226.90 L304.44 227.62 L305.64 228.33 L306.84 229.05 L308.05 229.77 L309.25 230.49 L310.45 231.22 L311.65 231.94 L312.85 232.66 L314.05 233.39 L315.25 234.11 L316.45 234.84 L317.65 235.56 L318.85 236.29 L320.05 237.02 L321.24 237.75 L322.44 238.48 L323.64 239.21 L324.84 239.94 L326.03 240.67 L327.23 241.41 L328.42 242.14 L329.62 242.88 L330.81 243.61 L332.01 244.35 L333.20 245.09 L334.39 245.82 L335.59 246.56 L336.78 247.30 L337.97 248.04 L339.17 248.78 L340.36 249.53 L341.55 250.27 L342.74 251.01 L343.93 251.75 L345.12 252.50 L346.31 253.24 L347.50 253.99 L348.69 254.74 L349.88 255.48 L351.06 256.23 L352.25 256.98 L353.44 257.73 L354.63 258.48 L355.81 259.23 L357.00 259.98 L358.19 260.73 L359.37 261.48 L360.56 262.23 L361.74 262.99 L362.93 263.74 L364.11 264.49 L365.29 265.25 L366.48 266.00 L367.66 266.76 L368.84 267.52 L370.02 268.27 L371.21 269.03 L372.39 269.79 L373.57 270.54 L374.75 271.30 L375.93 272.06 L377.11 272.82 L378.29 273.58 L379.47 274.34 L380.65 275.10 L381.83 275.86 L383.00 276.63 L384.18 277.39 L385.36 278.15 L386.54 278.91 L387.71 279.68 L388.89 280.44 L390.06 281.21 L391.24 281.97 L392.41 282.73 L393.59 283.50 L394.76 284.27 L395.94 285.03 L397.11 285.80 L398.28 286.56 L399.46 287.33 L400.63 288.10 L401.80 288.86 L402.97 289.63 L404.15 290.40 L405.32 291.17 L406.49 291.94 L407.66 292.71 L408.83 293.47 L410.00 294.24 L411.17 295.01 L412.33 295.78 L413.50 296.55 L414.67 297.32 L415.84 298.09 L417.01 298.86 L418.17 299.63 L419.34 300.41 L420.51 301.18 L421.67 301.95 L422.84 302.72 L424.00 303.49 L425.17 304.26 L426.33 305.03 L427.50 305.81 L428.66 306.58 L429.82 307.35 L430.99 308.12 L432.15 308.89 L433.31 309.67 L434.47 310.44 L435.64 311.21 L436.80 311.98 L437.96 312.76 L439.12 313.53 L440.28 314.30 L441.44 315.08 L442.60 315.85 L443.76 316.63 L444.92 317.40 L446.08 318.18 L447.24 318.95 L448.40 319.73 L449.55 320.50 L450.71 321.28 L451.87 322.06 L453.03 322.84 L454.19 323.62 L455.35 324.40 L456.50 325.18 L457.66 325.96 L458.82 326.74 L459.98 327.52 L461.13 328.30 L462.29 329.09 L463.45 329.87 L464.60 330.66 L465.76 331.44 L466.92 332.23 L468.08 333.02 L469.23 333.81 L470.39 334.60 L471.55 335.39 L472.71 336.18 L473.86 336.97 L475.02 337.77 L476.18 338.56 L477.34 339.36 L478.49 340.16 L479.65 340.96 L480.81 341.76 L481.97 342.56 L483.12 343.36 L484.28 344.16 L485.44 344.97 L486.60 345.78 L487.76 346.58 L488.92 347.39 L490.08 348.20 L491.24 349.02 L492.40 349.83 L493.56 350.64 L494.72 351.45 L495.88 352.27 L497.05 353.08 L498.21 353.89 L499.38 354.70 L500.54 355.50 L501.71 356.31 L502.88 357.11 L504.05 357.90 L505.23 358.70 L506.40 359.49 L507.58 360.27 L508.76 361.05 L509.94 361.83 L510.19 362.21 L511.26 362.88 L512.35 363.53 L513.44 364.17 L514.55 364.80 L515.67 365.41 L516.80 366.00 L517.95 366.58 L519.10 367.13 L520.27 367.67 L521.44 368.18 L522.62 368.68 L523.81 369.14 L525.01 369.59 L526.22 370.01 L527.43 370.40 L528.65 370.76 L529.87 371.09 L531.09 371.40 L532.33 371.67 L533.56 371.91 L534.80 372.11 L536.04 372.28 L537.28 372.41 L538.52 372.51 L539.76 372.57 L541.01 372.59 L542.25 372.56 L543.49 372.50 L544.73 372.40 L545.96 372.26 L547.19 372.08 L548.42 371.86 L549.64 371.60 L550.85 371.31 L552.06 370.98 L553.25 370.61 L554.44 370.22 L555.62 369.78 L556.79 369.32 L557.94 368.82 L559.08 368.29 L560.21 367.73 L561.33 367.14 L562.42 366.52 L563.51 365.87 L564.57 365.19 L565.62 364.49 L566.65 363.76 L567.66 363.00 L568.65 362.21 L569.61 361.41 L570.56 360.57 L571.48 359.72 L572.38 358.84 L573.26 357.94 L574.11 357.02 L574.94 356.08 L575.75 355.12 L576.54 354.14 L577.31 353.15 L578.06 352.14 L578.79 351.11 L579.51 350.07 L580.21 349.01 L580.89 347.95 L581.56 346.87 L582.21 345.78 L582.85 344.68 L583.48 343.57 L584.09 342.46 L584.69 341.33 L585.28 340.20 L585.86 339.07 L586.43 337.93 L587.00 336.78 L587.55 335.64 L588.10 334.49 L588.63 333.34 L589.17 332.19 L589.69 331.04 L590.21 329.89 L590.72 328.74 L591.23 327.59 L591.73 326.43 L592.23 325.28 L592.72 324.12 L593.20 322.96 L593.68 321.80 L594.15 320.64 L594.62 319.48 L595.08 318.32 L595.54 317.15 L595.99 315.99 L596.44 314.82 L596.88 313.65 L597.32 312.47 L597.76 311.30 L598.19 310.12 L598.62 308.95 L599.04 307.77 L599.46 306.58 L599.88 305.40 L600.29 304.21 L600.70 303.02 L601.10 301.83 L601.51 300.64 L601.91 299.44 L602.30 298.24 L602.69 297.05 L603.08 295.84 L603.47 294.64 L603.85 293.44 L604.23 292.23 L604.61 291.02 L604.99 289.81 L605.36 288.60 L605.73 287.39 L606.09 286.18 L606.45 284.97 L606.81 283.76 L607.17 282.54 L607.52 281.33 L607.87 280.11 L608.22 278.90 L608.56 277.68 L608.90 276.46 L609.24 275.25 L609.58 274.03 L609.91 272.81 L610.24 271.60 L610.57 270.38 L610.89 269.16 L611.21 267.95 L611.53 266.73 L611.84 265.51 L612.15 264.29 L612.46 263.07 L612.76 261.85 L613.06 260.63 L613.35 259.41 L613.64 258.19 L613.92 256.96 L614.21 255.74 L614.48 254.51 L614.75 253.29 L615.02 252.06 L615.28 250.83 L615.54 249.60 L615.79 248.37 L616.04 247.13 L616.28 245.90 L616.52 244.66 L616.75 243.42 L616.98 242.19 L617.20 240.94 L617.43 239.70 L617.65 238.46 L617.88 237.22 L618.12 235.98 L618.35 234.74 L618.60 233.50 L618.85 232.26 L619.11 231.03 L619.38 229.79 L619.66 228.56 L619.95 227.33 L620.25 226.10 L620.55 224.87 L620.86 223.65 L621.17 222.42 L621.48 221.20 L621.80 219.97 L622.11 218.75 L622.42 217.52 L622.73 216.30 L623.04 215.07 L623.33 213.84 L623.63 212.61 L623.92 211.39 L624.20 210.16 L624.48 208.93 L624.75 207.70 L625.02 206.47 L625.28 205.24 L625.54 204.00 L625.79 202.77 L626.04 201.54 L626.29 200.30 L626.53 199.07 L626.77 197.83 L627.00 196.60 L627.24 195.36 L627.46 194.12 L627.69 192.89 L627.91 191.65 L628.13 190.41 L628.34 189.17 L628.55 187.93 L628.76 186.69 L628.97 185.45 L629.18 184.21 L629.38 182.97 L629.58 181.73 L629.78 180.48 L629.97 179.24 L630.17 178.00 L630.36 176.75 L630.55 175.51 L630.74 174.27 L630.93 173.02 L631.12 171.78 L631.31 170.53 L631.49 169.29 L631.68 168.04 L631.86 166.80 L632.05 165.55 L632.23 164.30 L632.41 163.06 L632.60 161.81 L632.78 160.56 L632.97 159.32 L633.15 158.07 L633.33 156.82 L633.52 155.57 L633.71 154.33 L633.89 153.08 L634.08 151.83 L634.27 150.58 L634.46 149.33 L634.65 148.09 L634.84 146.84 L635.03 145.59 L635.22 144.34 L635.42 143.09 L635.61 141.84 L635.81 140.60 L636.00 139.35 L636.20 138.10 L636.40 136.85 L636.59 135.60 L636.79 134.35 L636.99 133.10 L637.19 131.86 L637.39 130.61 L637.59 129.36 L637.79 128.11 L638.00 126.86 L638.20 125.62 L638.40 124.37 L638.60 123.12 L638.81 121.87 L639.01 120.63 L639.21 119.38 L639.42 118.13 L639.62 116.89 L639.83 115.64 L640.03 114.40 L640.24 113.15 L640.45 111.90 L640.65 110.66 L640.86 109.41 L641.07 108.17 L641.27 106.92 L641.48 105.68 L641.69 104.44 L641.89 103.19 L642.10 101.95 L642.31 100.71 L642.51 99.47 L642.72 98.22 L642.93 96.98 L643.13 95.74 L643.34 94.50 L643.55 93.26 L643.75 92.02 L643.96 90.78 L644.16 89.54 L644.37 88.30 L644.57 87.07 L644.78 85.83 L644.99 84.59 L645.19 83.35 L645.40 82.12 L645.60 80.88 L645.81 79.64 L646.02 78.41 L646.23 77.17 L646.43 75.94 L646.64 74.70 L646.85 73.47 L647.06 72.23 L647.27 70.99 L647.49 69.76 L647.70 68.52 L647.91 67.29 L648.13 66.05 L648.35 64.81 L648.57 63.58 L648.79 62.34 L649.01 61.10 L649.23 59.86 L649.45 58.62 L649.68 57.39 L649.91 56.15 L650.14 54.91 L650.37 53.67 L650.60 52.43 L650.84 51.18 L651.08 49.94 L651.32 48.70 L651.56 47.45 L651.81 46.21 L652.05 44.97 L652.31 43.72 L652.56 42.47 L652.81 41.22 L653.07 39.98 L653.33 38.73 L653.60 37.47 L653.87 36.22 L654.14 34.97 L654.41 33.72 L654.69 32.46 L654.97 31.20 L655.25 29.95 L655.54 28.69 L655.83 27.43 L656.12 26.17 L656.43 24.91 L656.74 23.65 L657.07 22.41 L657.41 21.17 L657.78 19.95 L658.17 18.74 L658.58 17.56 L659.03 16.39 L659.52 15.25 L660.04 14.14 L660.60 13.06 L661.21 12.01 L661.86 11.00 L662.55 10.03 L663.29 9.10 L664.06 8.21 L664.89 7.36 L665.75 6.56 L666.65 5.81 L667.60 5.11 L668.59 4.46 L669.61 3.87 L670.68 3.33 L671.79 2.85 L672.93 2.42 L674.10 2.04 L675.31 1.71 L676.54 1.41 L677.79 1.15 L679.05 0.91 L680.34 0.70 L681.63 0.51 L682.93 0.34 L684.23 0.17 L685.54 0.01 L686.84 -0.15 L688.13 -0.32 L689.42 -0.50 L690.69 -0.70 L691.94 -0.93 L693.17 -1.19 L694.38 -1.48 L695.55 -1.82 L696.70 -2.22 L697.81 -2.66 L698.88 -3.18 L699.90 -3.76" stroke="#6cb3eb" stroke-dasharray="5.75 6.05"/>
<path d="M121.00 127.80 L189.66 153.02 L191.53 153.80 L193.40 154.59 L195.27 155.38 L197.13 156.18 L199.00 156.98 L200.86 157.79 L202.72 158.60 L204.57 159.41 L206.43 160.23 L208.28 161.06 L210.13 161.89 L211.98 162.72 L213.83 163.56 L215.67 164.40 L217.51 165.25 L219.35 166.10 L221.19 166.96 L223.03 167.82 L224.86 168.68 L226.69 169.55 L228.52 170.42 L230.35 171.30 L232.18 172.18 L234.00 173.06 L235.82 173.95 L237.64 174.84 L239.46 175.74 L241.28 176.64 L243.09 177.54 L244.90 178.45 L246.71 179.36 L248.52 180.27 L250.33 181.19 L252.14 182.11 L253.94 183.03 L255.74 183.96 L257.54 184.89 L259.34 185.83 L261.14 186.77 L262.94 187.71 L264.73 188.65 L266.52 189.60 L268.31 190.55 L270.10 191.50 L271.89 192.46 L273.68 193.42 L275.46 194.38 L277.25 195.34 L279.03 196.31 L280.81 197.28 L282.59 198.26 L284.36 199.23 L286.14 200.21 L287.92 201.19 L289.69 202.17 L291.46 203.16 L293.23 204.15 L295.00 205.14 L296.77 206.13 L298.54 207.13 L300.30 208.13 L302.07 209.13 L303.83 210.13 L305.59 211.13 L307.36 212.14 L309.12 213.15 L310.87 214.16 L312.63 215.17 L314.39 216.18 L316.14 217.20 L317.90 218.21 L319.65 219.23 L321.41 220.25 L323.16 221.28 L324.91 222.30 L326.66 223.33 L328.41 224.35 L330.15 225.38 L331.90 226.41 L333.65 227.45 L335.39 228.48 L337.14 229.51 L338.88 230.55 L340.62 231.58 L342.36 232.62 L344.11 233.66 L345.85 234.70 L347.59 235.74 L349.32 236.78 L351.06 237.83 L352.80 238.87 L354.54 239.91 L356.27 240.96 L358.01 242.00 L359.74 243.05 L361.48 244.10 L363.21 245.15 L364.95 246.19 L366.68 247.24 L368.41 248.29 L370.14 249.34 L371.88 250.39 L373.61 251.44 L375.34 252.49 L377.07 253.55 L378.80 254.60 L380.52 255.65 L382.25 256.71 L383.98 257.76 L385.70 258.82 L387.43 259.88 L389.16 260.94 L390.88 262.00 L392.60 263.06 L394.33 264.12 L396.05 265.19 L397.77 266.25 L399.49 267.32 L401.21 268.39 L402.93 269.46 L404.64 270.53 L406.36 271.61 L408.07 272.68 L409.79 273.76 L411.50 274.84 L413.21 275.93 L414.92 277.01 L416.63 278.10 L418.34 279.19 L420.05 280.28 L421.76 281.38 L423.46 282.48 L425.17 283.58 L426.87 284.68 L428.57 285.78 L430.27 286.89 L431.97 288.00 L433.67 289.12 L435.36 290.24 L437.06 291.36 L438.75 292.48 L440.44 293.61 L442.13 294.74 L443.82 295.87 L445.51 297.01 L447.19 298.15 L448.88 299.30 L450.56 300.44 L452.24 301.60 L453.92 302.75 L455.60 303.91 L457.27 305.07 L458.95 306.24 L460.63 307.40 L462.30 308.56 L463.98 309.72 L465.67 310.87 L467.35 312.01 L469.04 313.14 L470.74 314.26 L472.44 315.37 L474.14 316.46 L475.86 317.54 L477.58 318.60 L479.31 319.64 L481.05 320.66 L482.80 321.65 L484.57 322.62 L486.34 323.56 L488.13 324.47 L489.93 325.35 L491.74 326.20 L493.57 327.02 L495.41 327.80 L497.27 328.54 L499.15 329.25 L501.05 329.91 L502.96 330.53 L504.89 331.11 L506.83 331.66 L508.78 332.16 L510.75 332.62 L512.73 333.04 L514.71 333.43 L516.71 333.77 L518.72 334.07 L520.73 334.33 L522.75 334.56 L524.77 334.74 L526.80 334.88 L528.83 334.99 L530.87 335.05 L532.90 335.08 L534.94 335.07 L536.97 335.01 L539.00 334.92 L541.03 334.79 L543.06 334.62 L545.08 334.41 L547.09 334.17 L549.10 333.88 L551.10 333.56 L553.09 333.20 L555.07 332.80 L557.05 332.37 L559.02 331.90 L560.98 331.40 L562.94 330.86 L564.88 330.29 L566.82 329.69 L568.75 329.06 L570.66 328.39 L572.57 327.69 L574.47 326.97 L576.36 326.21 L578.23 325.43 L580.10 324.61 L581.96 323.77 L583.80 322.91 L585.63 322.01 L587.46 321.09 L589.27 320.15 L591.06 319.18 L592.85 318.19 L594.62 317.17 L596.38 316.14 L598.13 315.07 L599.86 313.99 L601.57 312.88 L603.27 311.75 L604.94 310.60 L606.60 309.42 L608.24 308.21 L609.85 306.98 L611.44 305.73 L613.00 304.45 L614.54 303.14 L616.05 301.81 L617.54 300.45 L618.99 299.06 L620.42 297.65 L621.81 296.21 L623.17 294.74 L624.49 293.24 L625.78 291.72 L627.03 290.16 L628.25 288.58 L629.42 286.97 L630.56 285.32 L631.65 283.65 L632.70 281.95 L633.72 280.22 L634.69 278.46 L635.63 276.67 L636.53 274.87 L637.40 273.04 L638.24 271.20 L639.06 269.33 L639.85 267.46 L640.62 265.57 L641.36 263.67 L642.09 261.76 L642.80 259.84 L643.50 257.92 L644.19 256.00 L644.86 254.07 L645.53 252.14 L646.18 250.21 L646.83 248.28 L647.46 246.34 L648.09 244.40 L648.71 242.46 L649.33 240.52 L649.94 238.58 L650.55 236.63 L651.15 234.69 L651.75 232.75 L652.34 230.80 L652.93 228.86 L653.52 226.91 L654.10 224.97 L654.68 223.02 L655.25 221.08 L655.82 219.13 L656.38 217.18 L656.94 215.23 L657.49 213.28 L658.04 211.33 L658.58 209.38 L659.12 207.43 L659.65 205.47 L660.18 203.52 L660.70 201.56 L661.22 199.61 L661.72 197.65 L662.23 195.69 L662.72 193.73 L663.21 191.76 L663.69 189.80 L664.17 187.83 L664.64 185.86 L665.10 183.90 L665.56 181.92 L666.01 179.95 L666.45 177.98 L666.89 176.00 L667.32 174.03 L667.74 172.05 L668.16 170.07 L668.58 168.09 L668.98 166.11 L669.39 164.12 L669.78 162.14 L670.18 160.15 L670.56 158.16 L670.94 156.18 L671.32 154.19 L671.70 152.20 L672.06 150.21 L672.43 148.21 L672.79 146.22 L673.14 144.22 L673.49 142.23 L673.84 140.23 L674.19 138.24 L674.53 136.24 L674.86 134.24 L675.20 132.24 L675.53 130.24 L675.85 128.24 L676.18 126.24 L676.50 124.23 L676.82 122.23 L677.13 120.23 L677.45 118.22 L677.76 116.22 L678.06 114.21 L678.37 112.21 L678.67 110.20 L678.98 108.19 L679.28 106.19 L679.58 104.18 L679.87 102.17 L680.17 100.16 L680.47 98.15 L680.76 96.14 L681.05 94.14 L681.34 92.13 L681.63 90.12 L681.92 88.11 L682.21 86.10 L682.50 84.09 L682.79 82.08 L683.08 80.07 L683.37 78.06 L683.66 76.05 L683.95 74.04 L684.24 72.03 L684.53 70.02 L684.82 68.01 L685.11 66.01 L685.41 64.00 L685.70 61.99 L685.99 59.98 L686.29 57.97 L686.59 55.97 L686.89 53.96 L687.19 51.95 L687.49 49.95 L687.79 47.94 L688.10 45.94 L688.41 43.93 L688.72 41.93 L689.03 39.92 L689.35 37.92 L689.66 35.92 L689.98 33.92 L690.31 31.92 L690.63 29.92 L690.96 27.92 L691.30 25.92 L691.63 23.92 L691.97 21.93 L692.32 19.93 L692.66 17.94 L693.01 15.94 L693.37 13.95 L693.73 11.96 L694.09 9.97 L694.46 7.98 L694.83 5.99 L695.21 4.00 L695.59 2.02 L695.98 0.03 L696.37 -1.95 L696.77 -3.94 L697.17 -5.92 L697.58 -7.90 L697.99 -9.87" stroke="#08a208"/>
<path d="M121.00 137.40 L189.70 165.86 L190.97 166.46 L192.25 167.06 L193.52 167.67 L194.79 168.27 L196.06 168.88 L197.33 169.49 L198.59 170.10 L199.86 170.71 L201.12 171.33 L202.39 171.94 L203.65 172.56 L204.91 173.18 L206.17 173.80 L207.43 174.42 L208.69 175.04 L209.95 175.67 L211.21 176.29 L212.46 176.92 L213.72 177.55 L214.97 178.18 L216.23 178.81 L217.48 179.44 L218.73 180.08 L219.98 180.71 L221.23 181.35 L222.48 181.99 L223.73 182.63 L224.97 183.27 L226.22 183.91 L227.47 184.56 L228.71 185.20 L229.95 185.85 L231.20 186.50 L232.44 187.15 L233.68 187.80 L234.92 188.45 L236.16 189.10 L237.40 189.76 L238.63 190.41 L239.87 191.07 L241.11 191.73 L242.34 192.39 L243.58 193.05 L244.81 193.72 L246.04 194.38 L247.28 195.04 L248.51 195.71 L249.74 196.38 L250.97 197.05 L252.20 197.72 L253.42 198.39 L254.65 199.06 L255.88 199.74 L257.11 200.41 L258.33 201.09 L259.56 201.77 L260.78 202.45 L262.00 203.13 L263.23 203.81 L264.45 204.49 L265.67 205.17 L266.89 205.86 L268.11 206.54 L269.33 207.23 L270.55 207.92 L271.77 208.61 L272.98 209.30 L274.20 209.99 L275.42 210.68 L276.63 211.38 L277.85 212.07 L279.06 212.77 L280.28 213.46 L281.49 214.16 L282.70 214.86 L283.91 215.56 L285.12 216.26 L286.34 216.96 L287.55 217.67 L288.76 218.37 L289.97 219.08 L291.17 219.78 L292.38 220.49 L293.59 221.20 L294.80 221.91 L296.00 222.62 L297.21 223.33 L298.42 224.04 L299.62 224.75 L300.83 225.47 L302.03 226.18 L303.24 226.90 L304.44 227.62 L305.64 228.33 L306.84 229.05 L308.05 229.77 L309.25 230.49 L310.45 231.22 L311.65 231.94 L312.85 232.66 L314.05 233.39 L315.25 234.11 L316.45 234.84 L317.65 235.56 L318.85 236.29 L320.05 237.02 L321.24 237.75 L322.44 238.48 L323.64 239.21 L324.84 239.94 L326.03 240.67 L327.23 241.41 L328.42 242.14 L329.62 242.88 L330.81 243.61 L332.01 244.35 L333.20 245.09 L334.39 245.82 L335.59 246.56 L336.78 247.30 L337.97 248.04 L339.17 248.78 L340.36 249.53 L341.55 250.27 L342.74 251.01 L343.93 251.75 L345.12 252.50 L346.31 253.24 L347.50 253.99 L348.69 254.74 L349.88 255.48 L351.06 256.23 L352.25 256.98 L353.44 257.73 L354.63 258.48 L355.81 259.23 L357.00 259.98 L358.19 260.73 L359.37 261.48 L360.56 262.23 L361.74 262.99 L362.93 263.74 L364.11 264.49 L365.29 265.25 L366.48 266.00 L367.66 266.76 L368.84 267.52 L370.02 268.27 L371.21 269.03 L372.39 269.79 L373.57 270.54 L374.75 271.30 L375.93 272.06 L377.11 272.82 L378.29 273.58 L379.47 274.34 L380.65 275.10 L381.83 275.86 L383.00 276.63 L384.18 277.39 L385.36 278.15 L386.54 278.91 L387.71 279.68 L388.89 280.44 L390.06 281.21 L391.24 281.97 L392.41 282.73 L393.59 283.50 L394.76 284.27 L395.94 285.03 L397.11 285.80 L398.28 286.56 L399.46 287.33 L400.63 288.10 L401.80 288.86 L402.97 289.63 L404.15 290.40 L405.32 291.17 L406.49 291.94 L407.66 292.71 L408.83 293.47 L410.00 294.24 L411.17 295.01 L412.33 295.78 L413.50 296.55 L414.67 297.32 L415.84 298.09 L417.01 298.86 L418.17 299.63 L419.34 300.41 L420.51 301.18 L421.67 301.95 L422.84 302.72 L424.00 303.49 L425.17 304.26 L426.33 305.03 L427.50 305.81 L428.66 306.58 L429.82 307.35 L430.99 308.12 L432.15 308.89 L433.31 309.67 L434.47 310.44 L435.64 311.21 L436.80 311.98 L437.96 312.76 L439.12 313.53 L440.28 314.30 L441.44 315.08 L442.60 315.85 L443.76 316.63 L444.92 317.40 L446.08 318.18 L447.24 318.95 L448.40 319.73 L449.55 320.50 L450.71 321.28 L451.87 322.06 L453.03 322.84 L454.19 323.62 L455.35 324.40 L456.50 325.18 L457.66 325.96 L458.82 326.74 L459.98 327.52 L461.13 328.30 L462.29 329.09 L463.45 329.87 L464.60 330.66 L465.76 331.44 L466.92 332.23 L468.08 333.02 L469.23 333.81 L470.39 334.60 L471.55 335.39 L472.71 336.18 L473.86 336.97 L475.02 337.77 L476.18 338.56 L477.34 339.36 L478.49 340.16 L479.65 340.96 L480.81 341.76 L481.97 342.56 L483.12 343.36 L484.28 344.16 L485.44 344.97 L486.60 345.78 L487.76 346.58 L488.92 347.39 L490.08 348.20 L491.24 349.02 L492.40 349.83 L493.56 350.64 L494.72 351.45 L495.88 352.27 L497.05 353.08 L498.21 353.89 L499.38 354.70 L500.54 355.50 L501.71 356.31 L502.88 357.11 L504.05 357.90 L505.23 358.70 L506.40 359.49 L507.58 360.27 L508.76 361.05 L509.94 361.83 L511.13 362.60 L512.32 363.36 L513.51 364.11 L514.70 364.86 L515.90 365.60 L517.10 366.34 L518.30 367.06 L519.51 367.78 L520.71 368.49 L521.93 369.18 L523.15 369.87 L524.37 370.55 L525.59 371.22 L526.82 371.87 L528.06 372.52 L529.29 373.15 L530.54 373.77 L531.78 374.38 L533.04 374.97 L534.29 375.56 L535.56 376.12 L536.82 376.68 L538.10 377.21 L539.38 377.74 L540.66 378.24 L541.95 378.74 L543.24 379.21 L544.55 379.67 L545.85 380.11 L547.17 380.53 L548.49 380.94 L549.82 381.33 L551.15 381.69 L552.49 382.04 L553.83 382.38 L555.19 382.69 L556.54 382.98 L557.90 383.26 L559.27 383.52 L560.64 383.75 L562.02 383.98 L563.40 384.18 L564.78 384.36 L566.17 384.53 L567.56 384.68 L568.95 384.81 L570.35 384.92 L571.75 385.01 L573.15 385.09 L574.55 385.15 L575.95 385.19 L577.36 385.21 L578.76 385.22 L580.17 385.20 L581.58 385.17 L582.99 385.13 L584.39 385.06 L585.80 384.98 L587.21 384.88 L588.62 384.76 L590.02 384.63 L591.42 384.48 L592.83 384.31 L594.23 384.12 L595.62 383.92 L597.02 383.70 L598.41 383.46 L599.80 383.21 L601.19 382.94 L602.57 382.65 L603.95 382.35 L605.32 382.03 L606.69 381.69 L608.06 381.33 L609.42 380.96 L610.77 380.57 L612.12 380.17 L613.46 379.75 L614.80 379.31 L616.13 378.86 L617.46 378.39 L618.77 377.91 L620.08 377.40 L621.39 376.89 L622.69 376.35 L623.97 375.81 L625.26 375.24 L626.53 374.67 L627.80 374.07 L629.06 373.47 L630.32 372.85 L631.57 372.21 L632.81 371.56 L634.04 370.90 L635.27 370.23 L636.49 369.54 L637.70 368.84 L638.90 368.13 L640.10 367.41 L641.29 366.67 L642.48 365.93 L643.65 365.17 L644.82 364.40 L645.98 363.62 L647.14 362.83 L648.29 362.03 L649.43 361.22 L650.56 360.40 L651.69 359.57 L652.81 358.73 L653.92 357.88 L655.01 357.02 L656.10 356.14 L657.17 355.25 L658.24 354.35 L659.28 353.43 L660.32 352.50 L661.33 351.55 L662.34 350.59 L663.32 349.61 L664.29 348.61 L665.23 347.59 L666.16 346.55 L667.07 345.50 L667.95 344.42 L668.81 343.33 L669.65 342.21 L670.47 341.07 L671.26 339.91 L672.02 338.72 L672.76 337.51 L673.39 335.73 L673.93 334.02 L674.49 332.32 L675.06 330.62 L675.64 328.92 L676.24 327.24 L676.85 325.55 L677.47 323.87 L678.11 322.20 L678.75 320.53 L679.41 318.87 L680.09 317.21 L680.77 315.55 L681.47 313.90 L682.19 312.26 L682.91 310.62 L683.63 308.98 L684.37 307.34 L685.10 305.71 L685.83 304.07 L686.56 302.44 L687.29 300.80 L688.00 299.16 L688.71 297.52 L689.40 295.87 L690.08 294.22 L690.74 292.56 L691.39 290.89 L692.02 289.22 L692.63 287.55 L693.23 285.87 L693.82 284.18 L694.39 282.49 L694.95 280.80 L695.50 279.10 L696.04 277.40 L696.57 275.69 L697.08 273.98 L697.59 272.27 L698.08 270.55 L698.57 268.84 L699.05 267.11 L699.52 265.39 L699.99 263.66 L700.45 261.94 L700.90 260.21 L701.34 258.47 L701.78 256.74 L702.22 255.00 L702.65 253.27 L703.08 251.53 L703.51 249.79 L703.93 248.05 L704.35 246.32 L704.77 244.58 L705.19 242.83 L705.60 241.09 L706.01 239.35 L706.42 237.61 L706.82 235.87 L707.22 234.12 L707.62 232.38 L708.02 230.63 L708.41 228.88 L708.80 227.14 L709.19 225.39 L709.57 223.64 L709.96 221.89 L710.34 220.15 L710.71 218.40 L711.09 216.64 L711.46 214.89 L711.83 213.14 L712.20 211.39 L712.56 209.64 L712.92 207.88 L713.28 206.13 L713.64 204.38 L713.99 202.62 L714.34 200.87 L714.69 199.11 L715.04 197.35 L715.38 195.60 L715.73 193.84 L716.07 192.08 L716.40 190.32 L716.74 188.57 L717.07 186.81 L717.40 185.05 L717.72 183.29 L718.05 181.53 L718.37 179.77 L718.69 178.00 L719.01 176.24 L719.32 174.48 L719.63 172.72 L719.94 170.95 L720.25 169.19 L720.56 167.43 L720.86 165.66 L721.16 163.90 L721.46 162.13 L721.76 160.37 L722.05 158.60 L722.34 156.84 L722.63 155.07 L722.92 153.31 L723.21 151.54 L723.49 149.77 L723.77 148.00 L724.05 146.24 L724.33 144.47 L724.60 142.70 L724.87 140.93 L725.15 139.16 L725.42 137.39 L725.68 135.62 L725.95 133.85 L726.21 132.08 L726.47 130.31 L726.73 128.54 L726.99 126.77 L727.25 125.00 L727.51 123.23 L727.76 121.46 L728.01 119.69 L728.26 117.91 L728.51 116.14 L728.76 114.37 L729.00 112.60 L729.25 110.82 L729.49 109.05 L729.73 107.28 L729.97 105.50 L730.21 103.73 L730.45 101.96 L730.69 100.18 L730.92 98.41 L731.15 96.63 L731.39 94.86 L731.62 93.08 L731.85 91.31 L732.08 89.53 L732.30 87.76 L732.53 85.98 L732.76 84.21 L732.98 82.43 L733.21 80.65 L733.43 78.88 L733.65 77.10 L733.87 75.32 L734.09 73.55 L734.31 71.77 L734.53 69.99 L734.75 68.22 L734.96 66.44 L735.18 64.66 L735.39 62.89 L735.61 61.11 L735.82 59.33 L736.04 57.55 L736.25 55.78 L736.46 54.00 L736.67 52.22 L736.88 50.44 L737.10 48.67 L737.31 46.89 L737.52 45.11 L737.73 43.33 L737.93 41.55 L738.14 39.78 L738.35 38.00 L738.56 36.22 L738.77 34.44 L738.98 32.66 L739.18 30.89 L739.39 29.11 L739.60 27.33 L739.80 25.55 L740.01 23.77 L740.22 22.00 L740.43 20.22 L740.63 18.44 L740.84 16.66 L741.05 14.88 L741.25 13.11 L741.46 11.33 L741.67 9.55 L741.88 7.77 L742.08 6.00 L742.29 4.22 L742.50 2.44 L742.71 0.66 L742.92 -1.11 L743.13 -2.89 L743.34 -4.67 L743.55 -6.45 L743.76 -8.22 L743.97 -10.00" stroke="#08a208" stroke-dasharray="5.75 6.05"/>
</g>
<g stroke="#6a6a6a" stroke-width="1" fill="none">
<rect x="106.60" y="0.50" width="718.50" height="444.30"/>
<line x1="121.00" y1="444.80" x2="121.00" y2="438.50"/>
<line x1="189.95" y1="444.80" x2="189.95" y2="438.50"/>
<line x1="258.90" y1="444.80" x2="258.90" y2="438.50"/>
<line x1="327.85" y1="444.80" x2="327.85" y2="438.50"/>
<line x1="396.80" y1="444.80" x2="396.80" y2="438.50"/>
<line x1="465.75" y1="444.80" x2="465.75" y2="438.50"/>
<line x1="534.70" y1="444.80" x2="534.70" y2="438.50"/>
<line x1="603.65" y1="444.80" x2="603.65" y2="438.50"/>
<line x1="672.60" y1="444.80" x2="672.60" y2="438.50"/>
<line x1="741.55" y1="444.80" x2="741.55" y2="438.50"/>
<line x1="810.50" y1="444.80" x2="810.50" y2="438.50"/>
<line x1="106.60" y1="422.70" x2="112.60" y2="422.70"/>
<line x1="106.60" y1="262.70" x2="112.60" y2="262.70"/>
<line x1="106.60" y1="102.70" x2="112.60" y2="102.70"/>
</g>
<g style="filter:grayscale(1)">
<text x="107.63" y="475.4" font-size="25.8">2<tspan dy="-10.2" font-size="17.6">0</tspan></text>
<text x="176.58" y="475.4" font-size="25.8">2<tspan dy="-10.2" font-size="17.6">1</tspan></text>
<text x="245.53" y="475.4" font-size="25.8">2<tspan dy="-10.2" font-size="17.6">2</tspan></text>
<text x="314.48" y="475.4" font-size="25.8">2<tspan dy="-10.2" font-size="17.6">3</tspan></text>
<text x="383.43" y="475.4" font-size="25.8">2<tspan dy="-10.2" font-size="17.6">4</tspan></text>
<text x="452.38" y="475.4" font-size="25.8">2<tspan dy="-10.2" font-size="17.6">5</tspan></text>
<text x="521.33" y="475.4" font-size="25.8">2<tspan dy="-10.2" font-size="17.6">6</tspan></text>
<text x="590.28" y="475.4" font-size="25.8">2<tspan dy="-10.2" font-size="17.6">7</tspan></text>
<text x="659.23" y="475.4" font-size="25.8">2<tspan dy="-10.2" font-size="17.6">8</tspan></text>
<text x="728.18" y="475.4" font-size="25.8">2<tspan dy="-10.2" font-size="17.6">9</tspan></text>
<text x="792.24" y="475.4" font-size="25.8">2<tspan dy="-10.2" font-size="17.6">10</tspan></text>
<text x="51.65" y="113.10" font-size="25.8">10<tspan dy="-10.6" font-size="17.6">−8</tspan></text>
<text x="51.65" y="273.10" font-size="25.8">10<tspan dy="-10.6" font-size="17.6">−9</tspan></text>
<text x="41.86" y="433.10" font-size="25.8">10<tspan dy="-10.6" font-size="17.6">−10</tspan></text>
<text x="444.9" y="512.8" font-size="26.5" font-style="italic">N<tspan dy="3.8" font-size="17.9" font-style="normal">lay</tspan></text>
<text transform="translate(28.3,259.4) rotate(-90)" font-size="26.6" letter-spacing="0.25">λ (s<tspan dy="-10.8" font-size="18">−1</tspan><tspan dy="10.8" font-size="26.6">)</tspan></text>
</g>
</svg>
</body></html>
